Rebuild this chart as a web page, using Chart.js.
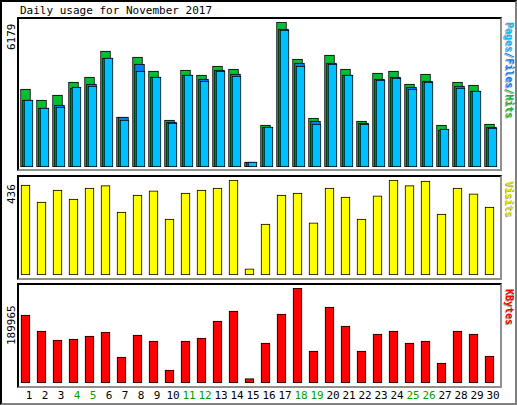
<!DOCTYPE html>
<html><head><meta charset="utf-8">
<script src="https://cdn.jsdelivr.net/npm/chart.js@4"></script>
<style>
body{margin:0;width:517px;height:405px;background:#fff;position:relative;overflow:hidden;font-family:"DejaVu Sans Mono",monospace;font-size:10px}
.outer{position:absolute;left:0;top:0;width:513px;height:401px;border:2px solid #000;border-right-color:#808080;border-bottom-color:#808080}
.frame{position:absolute;border:2px solid #000;border-right-color:#909090;border-bottom-color:#909090;box-sizing:border-box}
.cv{position:absolute}
.t{position:absolute;white-space:nowrap}
.rot{position:absolute;transform-origin:0 0;transform:rotate(-90deg);white-space:nowrap;font-size:11px}
.rotr{position:absolute;transform-origin:0 0;transform:rotate(90deg);white-space:nowrap;font-weight:bold;text-shadow:1px 1px 0 #aaa}
</style></head><body>
<div class="outer"></div>
<div class="t" style="left:20px;top:4px;font-size:11px">Daily usage for November 2017</div>
<div class="frame" style="left:17px;top:17px;width:485px;height:154px"></div>
<div class="frame" style="left:17px;top:175px;width:485px;height:105px"></div>
<div class="frame" style="left:17px;top:283px;width:485px;height:105px"></div>
<div class="cv" style="left:20px;top:22px;width:480px;height:145px"><canvas id="c1"></canvas></div>
<div class="cv" style="left:20px;top:180px;width:480px;height:95px"><canvas id="c2"></canvas></div>
<div class="cv" style="left:20px;top:288px;width:480px;height:95px"><canvas id="c3"></canvas></div>
<div id="lbls"></div>
<script>
const days = Array.from({length:30},(_,i)=>String(i+1));
const weekendDays = ["4","5","11","12","18","19","25","26"];
const hits  = [3323,2854,3067,3621,3834,4942,2130,4686,4090,2002,4132,3919,4303,4175,213,1789,6179,4601,2087,4771,4175,1960,4004,4090,3536,3962,1789,3621,3493,1832];
const files = [2854,2513,2641,3365,3536,4643,2130,4388,3834,1917,3919,3749,4132,3962,213,1704,5879,4430,1960,4430,3919,1874,3749,3834,3408,3664,1576,3451,3238,1704];
const pages = [2854,2513,2556,3408,3451,4643,2002,4090,3834,1874,3919,3664,4090,3877,213,1704,5836,4303,1832,4388,3919,1832,3706,3791,3323,3621,1619,3365,3238,1661];
const visits = [413,335,390,349,399,410,289,367,386,257,376,390,399,436,28,234,367,376,239,399,358,257,363,436,410,431,280,399,372,312];
const kbytes = [135970,103980,85990,87980,93980,101980,51990,95980,83980,25990,83980,89980,123970,143970,8660,79980,137970,189965,63990,151960,113970,63990,97980,103980,79980,83980,39990,103980,97980,53990];
const maxHits = 6179, maxVisits = 436, maxKB = 189965;

const shift = {id:'shift',afterDatasetsUpdate(chart){chart.data.datasets.forEach((ds,i)=>{const m=chart.getDatasetMeta(i);m.data.forEach(b=>{b.x+=ds.dx||0;});});}};
function mk(id, datasets, max){
  new Chart(document.getElementById(id),{type:'bar',data:{labels:days,datasets},
    options:{responsive:true,maintainAspectRatio:false,animation:false,layout:{padding:0},
      plugins:{legend:{display:false},tooltip:{enabled:false}},
      scales:{x:{display:false,grid:{display:false}},y:{display:false,min:0,max:max}},
      datasets:{bar:{grouped:false,borderColor:'#000',borderWidth:1,borderSkipped:false}}},
    plugins:[shift]});
}
mk('c1',[
  {data:hits,backgroundColor:'#00c030',barThickness:10,dx:-2.5,order:3},
  {data:files,backgroundColor:'#0080ff',barThickness:10,dx:-0.5,order:2},
  {data:pages,backgroundColor:'#00c0ff',barThickness:9,dx:0.5,order:1}],maxHits);
mk('c2',[{data:visits,backgroundColor:'#ffff00',barThickness:9,dx:-2.5}],maxVisits);
mk('c3',[{data:kbytes,backgroundColor:'#ff0000',barThickness:9,dx:-2.5}],maxKB);

const L=document.getElementById('lbls');
days.forEach((d,i)=>{const s=document.createElement('div');s.className='t';s.textContent=d;s.style.fontSize='11px';
  s.style.left=(20+16*i+9-d.length*3.3)+'px';s.style.top='389px';
  s.style.color=weekendDays.includes(d)?'#00a000':'#000';L.appendChild(s);});
function rl(txt,x,y){const s=document.createElement('div');s.className='rot';s.textContent=txt;s.style.left=x+'px';s.style.top=y+'px';L.appendChild(s);}
rl(String(maxHits),5,50);rl(String(maxVisits),5,204);rl(String(maxKB),5,345);
function rr(html,x,y){const s=document.createElement('div');s.className='rotr';s.innerHTML=html;s.style.left=x+'px';s.style.top=y+'px';L.appendChild(s);}
rr('<span style="color:#00c0ff">Pages</span><span style="color:#0080ff">/Files</span><span style="color:#00c030">/Hits</span>',515,22);
rr('<span style="color:#e0e000">Visits</span>',515,181);
rr('<span style="color:#ff0000">KBytes</span>',515,289);
</script></body></html>
